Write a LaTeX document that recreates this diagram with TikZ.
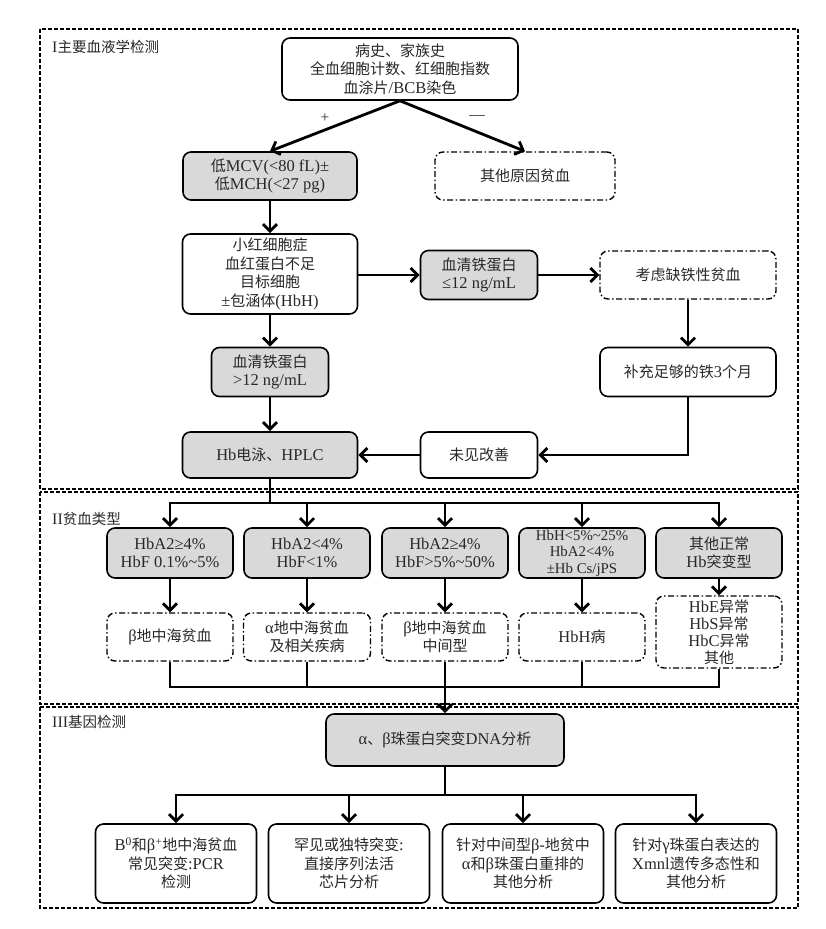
\documentclass[tikz,border=0pt]{standalone}
\usepackage{fontspec}
\setmainfont{Noto Sans CJK SC}
\newfontfamily\enf{Liberation Serif}[Scale=1.1]
\newcommand\en[1]{{\enf #1}}
\usetikzlibrary{arrows.meta}
\definecolor{boxgray}{RGB}{217,217,217}
\definecolor{txt}{RGB}{40,40,40}
\begin{document}
\begin{tikzpicture}[x=1pt,y=-1pt,
  box/.style={draw, line width=1.6pt, rounded corners=8pt, align=center, text=txt,
    font=\fontsize{15}{18.5}\selectfont, inner sep=2pt},
  gbox/.style={box, fill=boxgray},
  dbox/.style={box, line width=1.4pt, dash pattern=on 6pt off 2.5pt on 1.5pt off 2.5pt},
  arr/.style={line width=2.8pt, -{Straight Barb[length=7pt,width=14pt]}},
  ln/.style={line width=2.8pt},
  frame/.style={line width=1.3pt, dash pattern=on 4pt off 2pt},
  sec/.style={anchor=west, font=\fontsize{14.5}{16}\selectfont, inner sep=0pt, text=txt},
  lab/.style={font=\fontsize{14}{16}\selectfont, inner sep=0pt, text=txt}
]
\useasboundingbox (0,0) rectangle (825,929);
\fill[white] (0,0) rectangle (825,929);

% frames
\draw[frame] (40,29) rectangle (798,489);
\draw[frame] (40,492) rectangle (798,704);
\draw[frame] (40,707) rectangle (798,908);

\node[sec] (s1) at (52,47) {\en{I}主要血液学检测};
\node[sec] (s2) at (52,519) {\en{II}贫血类型};
\node[sec] (s3) at (52,722) {\en{III}基因检测};

% section I
\node[box, minimum width=236pt, minimum height=62pt] (b1) at (400,69)
  {病史、家族史\\全血细胞计数、红细胞指数\\血涂片\en{/BCB}染色};
\node[gbox, minimum width=174pt, minimum height=48pt] (mcv) at (270,176)
  {低\en{MCV(<80 fL)±}\\低\en{MCH(<27 pg)}};
\node[dbox, minimum width=180pt, minimum height=48pt] (other) at (525,176) {其他原因贫血};
\node[box, minimum width=175pt, minimum height=80pt] (micro) at (270,274)
  {小红细胞症\\血红蛋白不足\\目标细胞\\\en{±}包涵体\en{(HbH)}};
\node[gbox, minimum width=117pt, minimum height=49pt] (sf1) at (479,275)
  {血清铁蛋白\\\en{≤12 ng/mL}};
\node[dbox, minimum width=176pt, minimum height=48pt] (iron) at (688,275) {考虑缺铁性贫血};
\node[gbox, minimum width=117pt, minimum height=49pt] (sf2) at (270,372)
  {血清铁蛋白\\\en{>12 ng/mL}};
\node[box, minimum width=176pt, minimum height=49pt] (supp) at (688,372) {补充足够的铁\en{3}个月};
\node[gbox, minimum width=175pt, minimum height=46pt] (hb) at (270,455) {\en{Hb}电泳、\en{HPLC}};
\node[box, minimum width=117pt, minimum height=46pt] (noimp) at (479,455) {未见改善};

\draw[arr] (b1.south) -- (mcv.north);
\draw[arr] (b1.south) -- (other.north);
\node[lab] (plus) at (325,118) {\en{+}};
\node[lab] (minus) at (477,118) {\en{—}};
\draw[arr] (mcv) -- (micro);
\draw[arr] (micro.east |- sf1) -- (sf1.west);
\draw[arr] (sf1) -- (iron);
\draw[arr] (iron) -- (supp);
\draw[arr] (micro) -- (sf2);
\draw[arr] (sf2) -- (hb);
\draw[arr] (supp.south) |- (noimp.east);
\draw[arr] (noimp) -- (hb);

% section II
\coordinate (j1) at (270,503);
\node[gbox, minimum width=126pt, minimum height=50pt] (c1) at (170,553)
  {\en{HbA2≥4\%}\\\en{HbF 0.1\%\textasciitilde5\%}};
\node[gbox, minimum width=126pt, minimum height=50pt] (c2) at (307,553)
  {\en{HbA2<4\%}\\\en{HbF<1\%}};
\node[gbox, minimum width=126pt, minimum height=50pt] (c3) at (445,553)
  {\en{HbA2≥4\%}\\\en{HbF>5\%\textasciitilde50\%}};
\node[gbox, minimum width=126pt, minimum height=50pt, font=\fontsize{13.5}{16.5}\selectfont, inner sep=1pt] (c4) at (582,553)
  {\en{HbH<5\%\textasciitilde25\%}\\\en{HbA2<4\%}\\\en{±Hb Cs/jPS}};
\node[gbox, minimum width=126pt, minimum height=50pt] (c5) at (719,553)
  {其他正常\\\en{Hb}突变型};

\node[dbox, minimum width=126pt, minimum height=48pt] (d1) at (170,637) {\en{β}地中海贫血};
\node[dbox, minimum width=127pt, minimum height=48pt] (d2) at (307,637) {\en{α}地中海贫血\\及相关疾病};
\node[dbox, minimum width=126pt, minimum height=48pt] (d3) at (445,637) {\en{β}地中海贫血\\中间型};
\node[dbox, minimum width=126pt, minimum height=48pt] (d4) at (582,637) {\en{HbH}病};
\node[dbox, minimum width=126pt, minimum height=72pt, font=\fontsize{15}{17}\selectfont, inner sep=1pt] (d5) at (719,632)
  {\en{HbE}异常\\\en{HbS}异常\\\en{HbC}异常\\其他};

\draw[ln] (hb.south) -- (j1);
\draw[ln, line cap=rect] (c1.north |- j1) -- (c5.north |- j1);
\foreach \n in {1,...,5}{
  \draw[arr] (c\n.north |- j1) -- (c\n.north);
  \draw[arr] (c\n) -- (d\n);
}
\coordinate (j2) at (445,687);
\foreach \n in {1,...,5}{
  \draw[ln] (d\n.south) -- (d\n.south |- j2);
}
\draw[ln, line cap=rect] (d1.south |- j2) -- (d5.south |- j2);

% section III
\node[gbox, minimum width=238pt, minimum height=52pt] (dna) at (445,740)
  {\en{α}、\en{β}珠蛋白突变\en{DNA}分析};
\draw[arr] (j2) -- (dna.north);
\coordinate (j3) at (445,795);
\node[box, minimum width=161pt, minimum height=79pt] (e1) at (176,863.5)
  {\en{B\textsuperscript{0}}和\en{β\textsuperscript{+}}地中海贫血\\常见突变\en{:PCR}\\检测};
\node[box, minimum width=161pt, minimum height=79pt] (e2) at (349,863.5)
  {罕见或独特突变\en{:}\\直接序列法活\\芯片分析};
\node[box, minimum width=161pt, minimum height=79pt] (e3) at (523,863.5)
  {针对中间型\en{β-}地贫中\\\en{α}和\en{β}珠蛋白重排的\\其他分析};
\node[box, minimum width=161pt, minimum height=79pt] (e4) at (696,863.5)
  {针对\en{γ}珠蛋白表达的\\\en{Xmnl}遗传多态性和\\其他分析};
\draw[ln] (dna.south) -- (j3);
\draw[ln, line cap=rect] (e1.north |- j3) -- (e4.north |- j3);
\foreach \n in {1,...,4}{
  \draw[arr] (e\n.north |- j3) -- (e\n.north);
}
\end{tikzpicture}
\end{document}
